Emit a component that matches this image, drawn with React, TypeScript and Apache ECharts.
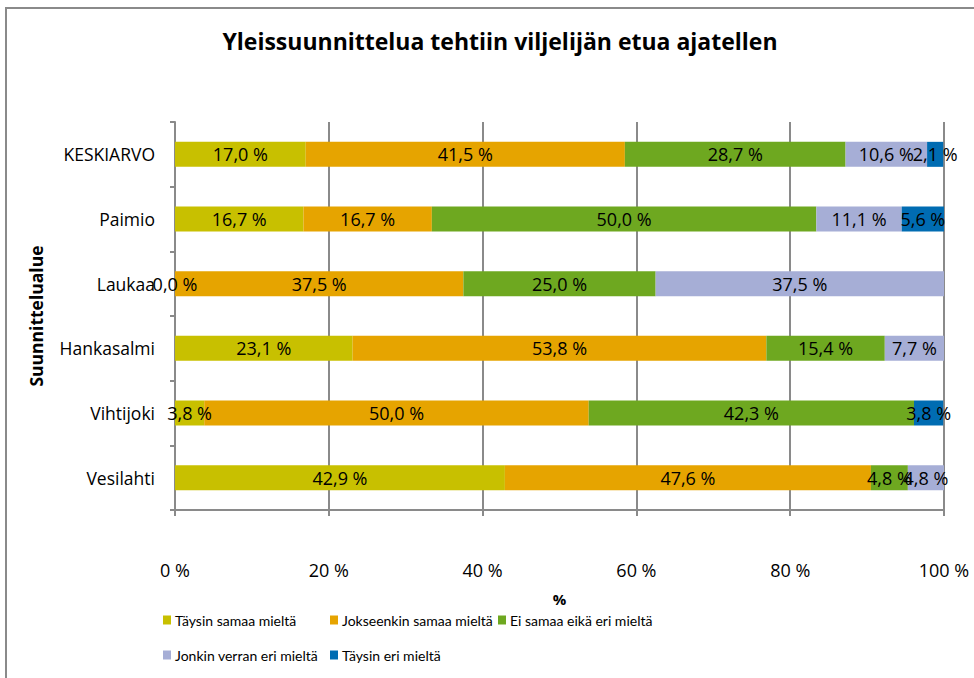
import React, { useEffect, useRef } from "react";
import * as echarts from "echarts";

const categories = ["Vesilahti", "Vihtijoki", "Hankasalmi", "Laukaa", "Paimio", "KESKIARVO"];
const seriesNames = [
  "Täysin samaa mieltä",
  "Jokseenkin samaa mieltä",
  "Ei samaa eikä eri mieltä",
  "Jonkin verran eri mieltä",
  "Täysin eri mieltä",
];
const taysinSamaa = [42.9, 3.8, 23.1, 0.0, 16.7, 17.0];
const jokseenkinSamaa = [47.6, 50.0, 53.8, 37.5, 16.7, 41.5];
const eiSamaaEikaEri = [4.8, 42.3, 15.4, 25.0, 50.0, 28.7];
const jonkinVerranEri = [4.8, null, 7.7, 37.5, 11.1, 10.6];
const taysinEri = [null, 3.8, null, null, 5.6, 2.1];
const xTicks = [0, 20, 40, 60, 80, 100];
const colors = ["#c8c000", "#e6a400", "#6ea820", "#a6aed6", "#006cb2"];

const FONT = "'Open Sans', Lato, sans-serif";
const LEGEND_FONT = "Lato, 'Open Sans', sans-serif";

export default function App() {
  const ref = useRef<HTMLDivElement>(null);
  useEffect(() => {
    if (!ref.current) return;
    const chart = echarts.init(ref.current, null, { renderer: "svg" });
    const values = [taysinSamaa, jokseenkinSamaa, eiSamaaEikaEri, jonkinVerranEri, taysinEri];
    const legendPos = [
      { left: 163, top: 613 },
      { left: 330, top: 613 },
      { left: 498, top: 613 },
      { left: 163, top: 648 },
      { left: 330, top: 648 },
    ];
    chart.setOption({
      animation: false,
      textStyle: { fontFamily: FONT },
      title: {
        text: "Yleissuunnittelua tehtiin viljelijän etua ajatellen",
        left: 495,
        textAlign: "center",
        top: 24,
        textStyle: { fontFamily: FONT, fontSize: 23, fontWeight: "bold", color: "#000" },
      },
      graphic: [
        {
          type: "rect",
          shape: { x: 6, y: 8, width: 1000, height: 700 },
          style: { fill: "none", stroke: "#8a8a8a", lineWidth: 2 },
          silent: true,
        },
      ],
      legend: seriesNames.map((n, i) => ({
        data: [n],
        left: legendPos[i].left,
        top: legendPos[i].top,
        padding: 0,
        itemWidth: 8,
        itemHeight: 9,
        itemGap: 4,
        icon: "rect",
        textStyle: { fontFamily: LEGEND_FONT, fontSize: 14, color: "#000", padding: [0, 0, 0, -1] },
      })),
      grid: { left: 175, right: 30, top: 122, bottom: 168 },
      xAxis: {
        type: "value",
        min: 0,
        max: 100,
        interval: 20,
        name: "%",
        nameLocation: "middle",
        nameGap: 81,
        nameTextStyle: { fontFamily: FONT, fontSize: 15, fontWeight: "bold", color: "#000" },
        axisLine: { show: true, lineStyle: { color: "#8a8a8a", width: 2 } },
        axisTick: { show: true, length: 6, lineStyle: { color: "#8a8a8a", width: 2 } },
        splitLine: { show: true, lineStyle: { color: "#8a8a8a", width: 2 } },
        axisLabel: {
          margin: 51,
          fontFamily: FONT,
          fontSize: 18,
          color: "#000",
          formatter: (v: number) => (xTicks.includes(v) ? `${v} %` : ""),
        },
      },
      yAxis: {
        type: "category",
        data: categories,
        name: "Suunnittelualue",
        nameLocation: "middle",
        nameGap: 130,
        nameRotate: 90,
        nameTextStyle: { fontFamily: FONT, fontSize: 17.5, fontWeight: "bold", color: "#000" },
        axisLine: { show: true, lineStyle: { color: "#8a8a8a", width: 2 } },
        axisTick: { show: true, length: 5, lineStyle: { color: "#8a8a8a", width: 2 } },
        axisLabel: { margin: 20, fontFamily: FONT, fontSize: 17.5, color: "#000" },
      },
      series: seriesNames.map((n, i) => ({
        name: n,
        type: "bar",
        stack: "total",
        barWidth: 25,
        itemStyle: { color: colors[i] },
        label: {
          show: true,
          position: "inside",
          fontFamily: FONT,
          fontSize: 18,
          color: "#000",
          formatter: (p: any) =>
            p.value == null ? "" : `${Number(p.value).toFixed(1).replace(".", ",")} %`,
        },
        data: values[i],
      })),
    });
    return () => chart.dispose();
  }, []);
  return (
    <div
      ref={ref}
      style={{ position: "fixed", left: 0, top: 0, width: 974, height: 678, background: "#fff" }}
    />
  );
}
